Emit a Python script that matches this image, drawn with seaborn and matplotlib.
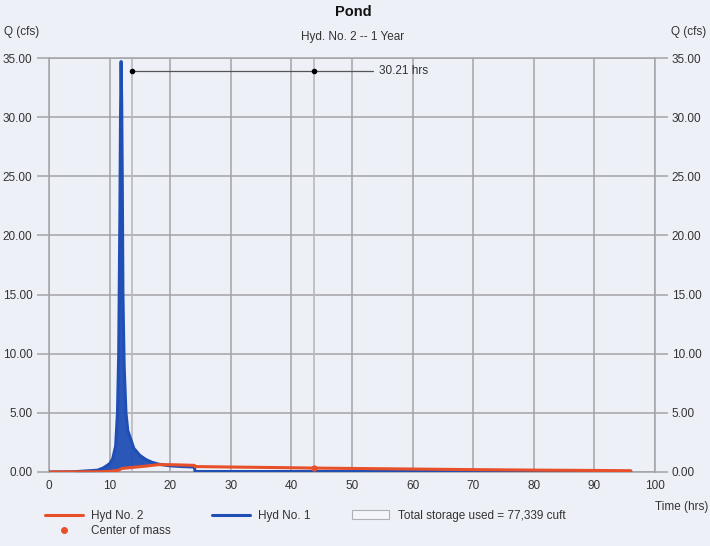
import matplotlib
matplotlib.use("Agg")
import matplotlib.pyplot as plt
from matplotlib.lines import Line2D
from matplotlib.patches import Patch
import seaborn as sns
import pandas as pd
import numpy as np

# inflow hydrograph (Hyd No. 1)
hyd1_time = [0, 4, 8, 9, 10, 10.5, 11, 11.3, 11.5, 11.7, 11.8, 11.9, 12.0, 12.1, 12.2, 12.4,
             12.7, 13, 14, 15, 16, 17, 18, 20, 22, 24, 24.1, 30, 40, 50, 60, 70, 80, 90, 96]
hyd1_flow = [0, 0.02, 0.15, 0.35, 0.7, 1.1, 2.2, 5.0, 10.0, 22.0, 30.0, 34.7, 31.0, 24.0, 15.0,
             9.0, 5.0, 3.5, 2.0, 1.4, 1.05, 0.82, 0.67, 0.52, 0.46, 0.42, 0.04, 0.04, 0.04,
             0.04, 0.04, 0.04, 0.04, 0.04, 0.04]

# outflow hydrograph (Hyd No. 2)
hyd2_time = [0, 8, 10, 11.5, 12, 13, 16, 18, 20, 24, 24.1, 30, 40, 44, 50, 60, 70, 80, 90, 96]
hyd2_flow = [0, 0.02, 0.05, 0.15, 0.3, 0.35, 0.5, 0.62, 0.62, 0.56, 0.46, 0.42, 0.36, 0.33,
             0.3, 0.25, 0.2, 0.16, 0.13, 0.11]

# centers of mass (hrs)
com_in = 13.7
com_out = 43.8
lag_label = "30.21 hrs"
storage_label = "Total storage used = 77,339 cuft"

y_ticks = [0, 5, 10, 15, 20, 25, 30, 35]
x_ticks = [0, 10, 20, 30, 40, 50, 60, 70, 80, 90, 100]

bg = "#eef0f7"
red = "#e8502a"
blue = "#1f4fb5"
grid = "#a3a3a8"
txt = "#333333"

sns.set_theme(style="white")
plt.rcParams["font.family"] = ["Liberation Sans", "DejaVu Sans"]

fig = plt.figure(figsize=(7.1, 5.46), dpi=100, facecolor=bg)
ax = fig.add_axes([49 / 710, 74 / 546, 606 / 710, 414 / 546])
ax.set_facecolor(bg)

df = pd.concat([
    pd.DataFrame({"Time": hyd1_time, "Q": hyd1_flow, "Hyd": "Hyd No. 1"}),
    pd.DataFrame({"Time": hyd2_time, "Q": hyd2_flow, "Hyd": "Hyd No. 2"}),
])

# storage area between inflow and outflow
t = np.array(hyd1_time, dtype=float)
q_in = np.array(hyd1_flow)
q_out = np.interp(t, hyd2_time, hyd2_flow)
ax.fill_between(t, q_out, q_in, where=q_in > q_out, color=blue, alpha=0.95,
                linewidth=0, zorder=2)

sns.lineplot(data=df, x="Time", y="Q", hue="Hyd", hue_order=["Hyd No. 1", "Hyd No. 2"],
             palette=[blue, red], linewidth=2.2, estimator=None, sort=False,
             legend=False, ax=ax, zorder=3)

# center of mass guides
for c in (com_in, com_out):
    ax.axvline(c, color="#b8b8be", linewidth=1.2, zorder=1)
ax.plot([com_in, 53.5], [33.9, 33.9], color="#555555", linewidth=0.9, zorder=4)
ax.plot([com_in, com_out], [33.9, 33.9], "o", color="black", markersize=3, zorder=5)
ax.text(54.5, 33.9, lag_label, fontsize=8.5, color=txt, va="center", ha="left")
ax.plot([com_out], [np.interp(com_out, hyd2_time, hyd2_flow)], "o", color=red,
        markersize=3.5, zorder=5)

ax.set_xlim(0, 100)
ax.set_ylim(0, 35)
ax.set_xticks(x_ticks)
ax.set_yticks(y_ticks)
ax.set_yticklabels([f"{v:.2f}" for v in y_ticks])
ax.grid(True, color=grid, linewidth=1.1)
ax.set_axisbelow(True)
for s in ax.spines.values():
    s.set_color(grid)
    s.set_linewidth(1.1)
ax.tick_params(axis="both", colors=txt, labelsize=8.5, length=9, width=1.1,
               color=grid, pad=3)
ax.tick_params(axis="x", length=0, pad=6)
ax.set_xlabel("")
ax.set_ylabel("")

ax2 = ax.twinx()
ax2.set_ylim(0, 35)
ax2.set_yticks(y_ticks)
ax2.set_yticklabels([f"{v:.2f}" for v in y_ticks])
ax2.tick_params(axis="y", colors=txt, labelsize=8.5, length=9, width=1.1, color=grid, pad=3)
for s in ax2.spines.values():
    s.set_visible(False)
ax2.grid(False)

fig.text(353 / 710, 1 - 12 / 546, "Pond", fontsize=10.5, fontweight="bold", color="#111111",
         ha="center", va="center")
fig.text(353 / 710, 1 - 37 / 546, "Hyd. No. 2 -- 1 Year", fontsize=8.5, color=txt,
         ha="center", va="center")
fig.text(4 / 710, 1 - 32 / 546, "Q (cfs)", fontsize=8.5, color=txt, ha="left", va="center")
fig.text(706 / 710, 1 - 32 / 546, "Q (cfs)", fontsize=8.5, color=txt, ha="right", va="center")
fig.text(708 / 710, 1 - 507 / 546, "Time (hrs)", fontsize=8.5, color=txt, ha="right",
         va="center")

handles = [
    Line2D([], [], color=red, linewidth=2.2),
    Line2D([], [], marker="o", color=red, linestyle="none", markersize=4),
    Line2D([], [], color=blue, linewidth=2.2),
    Patch(facecolor="#f4f5fa", edgecolor="#b0b0b8", linewidth=0.8),
]
labels = ["Hyd No. 2", "Center of mass", "Hyd No. 1", storage_label]
fig.legend(handles, labels, ncol=3, loc="upper left", bbox_to_anchor=(40 / 710, 1 - 505 / 546),
           frameon=False, fontsize=8.5, labelcolor=txt, handlelength=3.2, handletextpad=0.7,
           columnspacing=3.5, labelspacing=0.25, borderaxespad=0)

fig.savefig("out.png", dpi=100, facecolor=bg)
